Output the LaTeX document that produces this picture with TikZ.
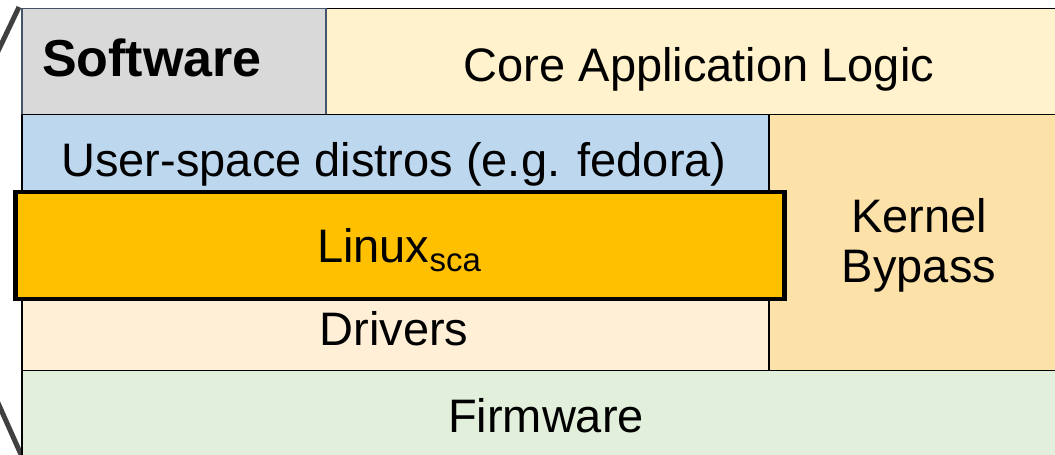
\documentclass[tikz,border=0pt]{standalone}
\usepackage{fontspec}
\setmainfont{Liberation Sans}
\definecolor{swgray}{HTML}{D9D9D9}
\definecolor{swedge}{HTML}{44546A}
\definecolor{corecol}{HTML}{FFF2CC}
\definecolor{usercol}{HTML}{BDD7EE}
\definecolor{kbcol}{HTML}{FCE1A9}
\definecolor{drvcol}{HTML}{FFEFD6}
\definecolor{fwcol}{HTML}{E2EFDA}
\definecolor{linuxcol}{HTML}{FFC000}
\definecolor{zoomline}{HTML}{404040}
\begin{document}
\begin{tikzpicture}[x=1pt,y=1pt,
  layer/.style={draw=black, line width=1.5pt, anchor=north west, inner sep=0pt},
  lbl/.style={inner sep=0pt, anchor=base, font=\fontsize{47}{56}\selectfont},
  zl/.style={draw=zoomline, line width=5pt}]
\useasboundingbox (0,0) rectangle (1055,455);
\clip (0,0) rectangle (1055,455);
% zoom lines
\coordinate (zt0) at (-10,387);
\coordinate (zt1) at (19,448);
\coordinate (zb0) at (-10,70);
\coordinate (zb1) at (23,-4);
\draw[zl] (zt0) -- (zt1);
\draw[zl] (zb0) -- (zb1);
% boxes
\node[layer, fill=corecol, minimum width=760, minimum height=106] (core) at (325,447) {};
\node[layer, fill=swgray, draw=swedge, minimum width=304, minimum height=106] (sw) at (21,447) {};
\node[layer, fill=usercol, minimum width=747, minimum height=92] (user) at (21,341) {};
\node[layer, fill=drvcol, minimum width=747, minimum height=80] (drv) at (21,165) {};
\node[layer, fill=kbcol, minimum width=320, minimum height=256] (kb) at (768,341) {};
\node[layer, fill=fwcol, minimum width=1060, minimum height=100] (fw) at (21,85) {};
\node[layer, fill=linuxcol, line width=4.5pt, minimum width=769, minimum height=107] (linux) at (13,265) {};
% labels
\node[lbl, anchor=base west, font=\fontsize{52}{60}\selectfont\bfseries] (tsw) at (42,378) {Software};
\node[lbl] (tcore) at (699,373) {Core Application Logic};
\node[lbl] (tuser) at (394,278) {User-space distros (e.g. fedora)};
\node[lbl] (tlinux) at (399,192) {Linux\raisebox{-9pt}{\fontsize{33}{33}\selectfont sca}};
\node[lbl] (tkb1) at (919,222) {Kernel};
\node[lbl] (tkb2) at (919,172) {Bypass};
\node[lbl] (tdrv) at (394,109) {Drivers};
\node[lbl] (tfw) at (546,22) {Firmware};
\end{tikzpicture}
\end{document}
